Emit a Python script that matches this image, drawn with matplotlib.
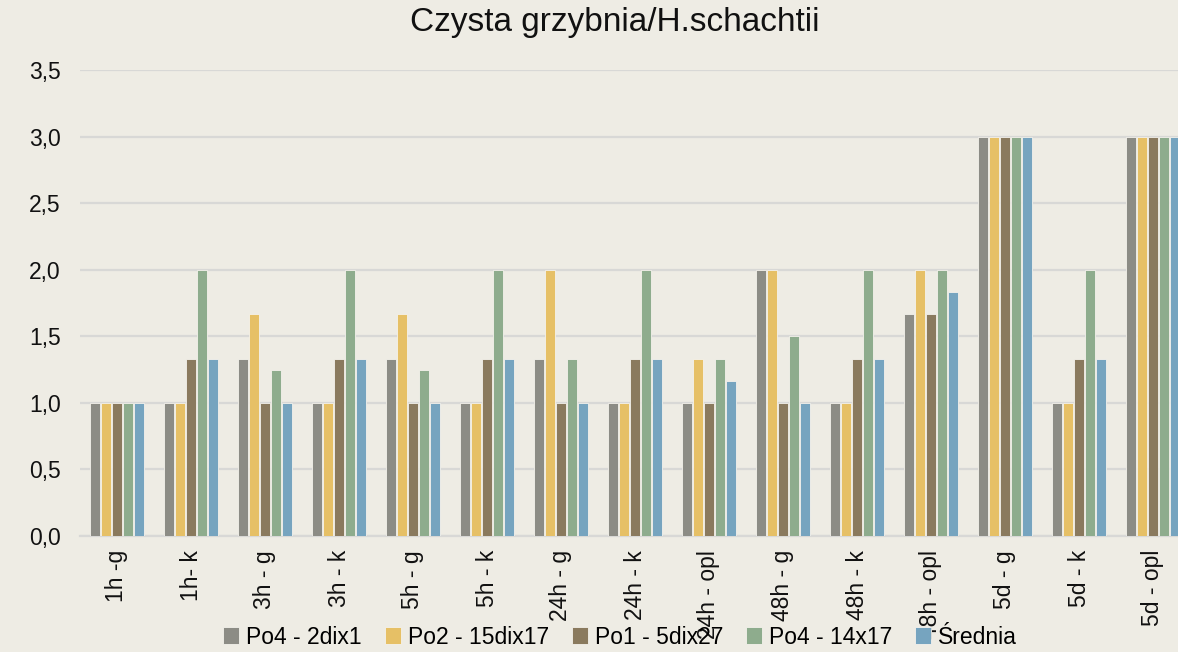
import numpy as np
import matplotlib.pyplot as plt
from matplotlib.ticker import FuncFormatter

plt.rcParams['font.family'] = ['Liberation Sans', 'DejaVu Sans']

categories = ["1h -g", "1h- k", "3h - g", "3h - k", "5h - g", "5h - k",
              "24h - g", "24h - k", "24h - opl", "48h - g", "48h - k",
              "48h - opl", "5d - g", "5d - k", "5d - opl"]

po4_2dix1 = [1, 1, 1.333, 1, 1.333, 1, 1.333, 1, 1, 2, 1, 1.667, 3, 1, 3]
po2_15dix17 = [1, 1, 1.667, 1, 1.667, 1, 2, 1, 1.333, 2, 1, 2, 3, 1, 3]
po1_5dix27 = [1, 1.333, 1, 1.333, 1, 1.333, 1, 1.333, 1, 1, 1.333, 1.667, 3, 1.333, 3]
po4_14x17 = [1, 2, 1.25, 2, 1.25, 2, 1.333, 2, 1.333, 1.5, 2, 2, 3, 2, 3]
srednia = [1, 1.333, 1, 1.333, 1, 1.333, 1, 1.333, 1.167, 1, 1.333, 1.833, 3, 1.333, 3]

series = [
    ("Po4 - 2dix1", po4_2dix1, "#8C8C85"),
    ("Po2 - 15dix17", po2_15dix17, "#E6C066"),
    ("Po1 - 5dix27", po1_5dix27, "#8A7A5E"),
    ("Po4 - 14x17", po4_14x17, "#8EAC8D"),
    ("Średnia", srednia, "#76A4BF"),
]

bg = "#EEECE4"
W, H = 1178, 652
fig = plt.figure(figsize=(W / 100, H / 100), dpi=100, facecolor=bg)
ax = fig.add_axes([80 / W, (H - 536) / H, 1110 / W, 466 / H], facecolor=bg)

x = np.arange(len(categories))
slot = 0.149
for i, (name, vals, col) in enumerate(series):
    ax.bar(x + (i - 2) * slot, vals, width=0.128, color=col, label=name,
           edgecolor="#F4F2EC", linewidth=0.6, zorder=3)

ax.set_xlim(-0.5, len(categories) - 0.5)
ax.set_ylim(0, 3.5)
ax.set_yticks(np.arange(0, 3.51, 0.5))
ax.yaxis.set_major_formatter(FuncFormatter(lambda v, p: f"{v:.1f}".replace(".", ",")))
ax.grid(axis="y", color="#D8D8D6", linewidth=1.6, zorder=0)
for s in ["top", "right", "left"]:
    ax.spines[s].set_visible(False)
ax.spines["bottom"].set_color("#D8D8D6")
ax.spines["bottom"].set_linewidth(1.6)
ax.tick_params(axis="both", length=0, labelsize=16.5, colors="#111111")
ax.tick_params(axis="y", pad=14)
ax.set_xticks(x)
ax.set_xticklabels(categories, rotation=90, ha="center", va="top")
ax.tick_params(axis="x", pad=10)

fig.text(615 / W, 1 - 23 / H, "Czysta grzybnia/H.schachtii", ha="center",
         va="center", fontsize=24, color="#111111")

fig.legend(loc="center", bbox_to_anchor=(620 / W, 1 - 637 / H), ncol=5,
           frameon=False, fontsize=16.5, handlelength=0.7, handleheight=0.7,
           handletextpad=0.3, columnspacing=1.0, borderpad=0)

fig.savefig("out.png", dpi=100, facecolor=bg)
